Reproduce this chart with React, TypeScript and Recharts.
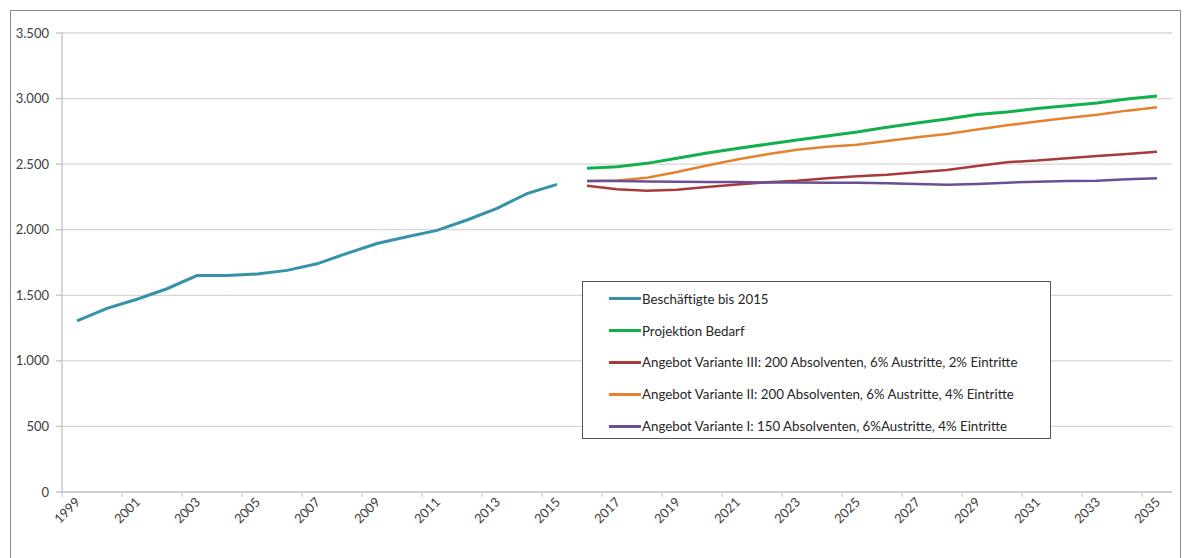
import React from 'react';
import { LineChart, Line, XAxis, YAxis, CartesianGrid } from 'recharts';

// Years on the category axis
const years = [
  1999, 2000, 2001, 2002, 2003, 2004, 2005, 2006, 2007, 2008, 2009, 2010, 2011, 2012, 2013, 2014, 2015,
  2016, 2017, 2018, 2019, 2020, 2021, 2022, 2023, 2024, 2025, 2026, 2027, 2028, 2029, 2030, 2031, 2032,
  2033, 2034, 2035,
];

// 1999–2015
const beschaeftigte = [1305, 1400, 1470, 1550, 1650, 1650, 1662, 1690, 1740, 1820, 1895, 1947, 1995, 2074, 2163, 2275, 2346];

// 2016–2035
const projektionBedarf = [2468, 2481, 2506, 2545, 2585, 2620, 2652, 2684, 2715, 2745, 2782, 2814, 2844, 2878, 2898, 2924, 2946, 2966, 2997, 3020];
const varianteIII = [2336, 2308, 2298, 2305, 2325, 2345, 2362, 2374, 2393, 2408, 2420, 2438, 2455, 2486, 2515, 2527, 2545, 2562, 2577, 2595];
const varianteII = [2371, 2375, 2397, 2440, 2490, 2535, 2575, 2610, 2632, 2648, 2677, 2705, 2730, 2764, 2796, 2826, 2852, 2876, 2908, 2933];
const varianteI = [2371, 2371, 2368, 2365, 2363, 2363, 2360, 2360, 2358, 2358, 2354, 2348, 2342, 2349, 2359, 2366, 2371, 2373, 2384, 2392];

const yTicks = [0, 500, 1000, 1500, 2000, 2500, 3000, 3500];

const PROJ_START = 2016;

const data = years.map((year, i) => {
  const j = year - PROJ_START;
  return {
    year: String(year),
    besch: i < beschaeftigte.length ? beschaeftigte[i] : null,
    bedarf: j >= 0 ? projektionBedarf[j] : null,
    v3: j >= 0 ? varianteIII[j] : null,
    v2: j >= 0 ? varianteII[j] : null,
    v1: j >= 0 ? varianteI[j] : null,
  };
});

const series = [
  { key: 'besch', name: 'Beschäftigte bis 2015', color: '#3592a8', width: 3 },
  { key: 'bedarf', name: 'Projektion Bedarf', color: '#10b04c', width: 3 },
  { key: 'v3', name: 'Angebot Variante III: 200 Absolventen, 6% Austritte, 2% Eintritte', color: '#a83a3c', width: 2.5 },
  { key: 'v2', name: 'Angebot Variante II: 200 Absolventen, 6% Austritte, 4% Eintritte', color: '#e5822f', width: 2.5 },
  { key: 'v1', name: 'Angebot Variante I: 150 Absolventen, 6%Austritte, 4% Eintritte', color: '#6a4f93', width: 2.5 },
];

const FONT = 'Lato, "Noto Sans", sans-serif';

const fmt = (v: number) => String(v).replace(/\B(?=(\d{3})+(?!\d))/g, '.');

const XTick = (props: any) => {
  const { x, y, payload } = props;
  return (
    <g>
      <line x1={x - 15} x2={x - 15} y1={y} y2={y + 5} stroke="#c8c8c8" />
      <text
        x={0}
        y={0}
        transform={`translate(${x + 4},${y + 11}) rotate(-45)`}
        textAnchor="end"
        fill="#404040"
        fontSize={13}
        fontFamily={FONT}
      >
        {payload.value}
      </text>
    </g>
  );
};

// legend drawn as an overlay box, like the Excel one
const LegendBox = () => (
  <div
    style={{
      position: 'absolute',
      left: 582,
      top: 281,
      width: 469,
      height: 158,
      border: '1px solid #555',
      background: '#fff',
      boxSizing: 'border-box',
      paddingTop: 1,
      fontFamily: FONT,
      fontSize: 13.3,
      color: '#262626',
    }}
  >
    {series.map((s) => (
      <div key={s.key} style={{ display: 'flex', alignItems: 'center', height: 31.8, paddingLeft: 26 }}>
        <span style={{ display: 'inline-block', width: 32, height: 3, background: s.color, marginRight: 1 }} />
        <span>{s.name}</span>
      </div>
    ))}
  </div>
);

export default function App() {
  return (
    <div style={{ position: 'absolute', left: 0, top: 0, width: 1190, height: 558, background: '#fff', overflow: 'hidden' }}>
      <div
        style={{
          position: 'absolute',
          left: 10,
          top: 10,
          width: 1171,
          height: 600,
          border: '1px solid #8a8a8a',
          boxSizing: 'border-box',
        }}
      />
      <div style={{ position: 'absolute', left: 0, top: 0 }}>
        <LineChart width={1190} height={558} data={data} margin={{ top: 33, right: 18, bottom: 0, left: 12 }}>
          <CartesianGrid vertical={false} stroke="#d6d6d6" strokeWidth={1.3} />
          <XAxis
            dataKey="year"
            interval={1}
            padding={{ left: 15, right: 15 }}
            tickSize={0}
            tickMargin={0}
            height={66}
            stroke="#c8c8c8"
            strokeWidth={1.5}
            tick={<XTick />}
          />
          <YAxis
            domain={[0, 3500]}
            ticks={yTicks}
            width={50}
            tickSize={6}
            tickMargin={7}
            stroke="#c8c8c8"
            strokeWidth={1.5}
            tickFormatter={fmt}
            tick={{ fill: '#404040', fontSize: 13, fontFamily: FONT }}
          />
          {series.map((s) => (
            <Line
              key={s.key}
              dataKey={s.key}
              name={s.name}
              stroke={s.color}
              strokeWidth={s.width}
              dot={false}
              activeDot={false}
              type="linear"
              isAnimationActive={false}
            />
          ))}
        </LineChart>
      </div>
      <LegendBox />
    </div>
  );
}
